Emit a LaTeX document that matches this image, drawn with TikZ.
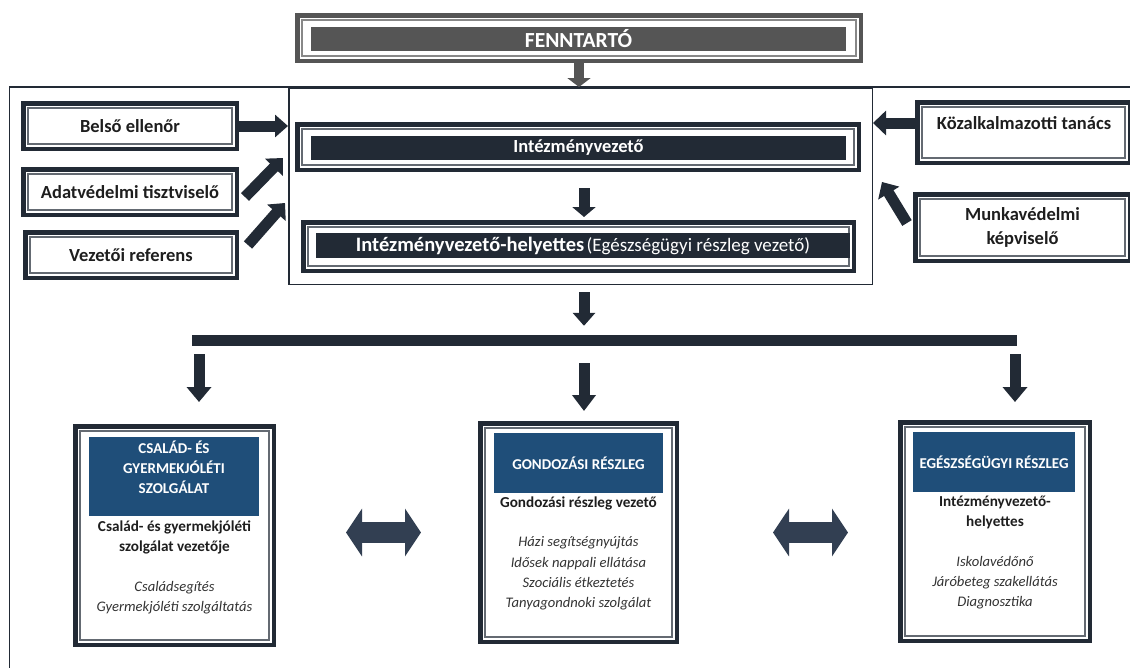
\documentclass[tikz,border=0pt]{standalone}
\usepackage{fontspec}
\setmainfont{Carlito}
\usetikzlibrary{arrows.meta}
\definecolor{navy}{HTML}{222A35}
\definecolor{hdrblue}{HTML}{1F4E79}
\definecolor{fgray}{HTML}{555555}
\definecolor{dblarr}{HTML}{323F52}
\definecolor{txtdark}{HTML}{1E1E1E}
\definecolor{txtgray}{HTML}{333333}

\tikzset{
  dboxst/.style={draw=#1, line width=4.5pt, fill=white, inner sep=0pt, align=center},
  sb/.style={font=\fontsize{18.5}{24}\selectfont\bfseries, text=txtdark},
  barst/.style={fill=#1, inner sep=0pt, text=white},
  hdr/.style={fill=hdrblue, inner sep=0pt, text=white, font=\fontsize{15}{20}\selectfont\bfseries, align=center},
  hdrtxt/.style={inner sep=0pt, text=white, font=\fontsize{15}{20}\selectfont\bfseries, align=center},
  bodyb/.style={font=\fontsize{15.2}{20}\selectfont\bfseries, text=txtdark, align=center, inner sep=0pt},
  bodyi/.style={font=\fontsize{14.6}{20.3}\selectfont\itshape, text=txtgray, align=center, inner sep=0pt},
  arr/.style={draw=navy, line width=11pt, -{Triangle[length=13pt,width=24pt]}},
  garr/.style={draw=fgray, line width=10pt, -{Triangle[length=9pt,width=23pt]}},
  darr/.style={draw=dblarr, line width=21pt, {Triangle[length=16pt,width=47pt]}-{Triangle[length=16pt,width=47pt]}}
}

% name, x1, y1, x2, y2, colour, extra style, text
\newcommand\dbox[8]{%
  \node[dboxst=#6,#7,minimum width={#4pt-#2pt-4.5pt},minimum height={#5pt-#3pt-4.5pt}]
    (#1) at ({(#2+#4)/2},{(#3+#5)/2}) {#8};
  \draw[line width=1.2pt, draw=#6!70] ({#2+7},{#3+7}) rectangle ({#4-7},{#5-7});
}

\begin{document}
\begin{tikzpicture}[x=1pt,y=-1pt]
\useasboundingbox (0,0) rectangle (1130,667);
\clip (0,0) rectangle (1130,667);
\fill[white] (0,0) rectangle (1130,667);

% big outer frame
\draw[navy, line width=1.5pt] (9.5,87) rectangle (1170,700);

% central group box
\node[draw=navy, line width=1.5pt, fill=white, inner sep=0pt, minimum width=583.5, minimum height=196.5] (kozp) at (580.5,186) {};

% FENNTARTO
\dbox{fennbox}{295}{13}{863}{63}{fgray}{}{}
\node[barst=fgray, minimum width=535, minimum height=24, font=\fontsize{21.5}{24}\selectfont\bfseries] (fenn) at (578.5,39) {FENNTARTÓ};
\coordinate (ftop) at (579,87);
\draw[garr] (fennbox) -- (ftop);

% Intezmenyvezeto
\dbox{ivbox}{295}{122}{861}{172}{navy}{}{}
\node[barst=navy, minimum width=535, minimum height=24, font=\fontsize{18.5}{22}\selectfont\bfseries] (iv) at (578.5,147.5) {Intézményvezető};

% Helyettes
\dbox{ivhbox}{301}{220}{856}{273}{navy}{}{}
\node[barst=navy, minimum width=534, minimum height=25] (ivh) at (583,245.5)
  {{\fontsize{20.5}{24}\selectfont\bfseries Intézményvezető-helyettes} {\fontsize{19}{24}\selectfont (Egészségügyi részleg vezető)}};

\draw[arr, -{Triangle[length=10pt,width=23pt]}, shorten <=16pt, shorten >=3pt]
  ([xshift=6pt]ivbox.south) -- ([xshift=6pt]ivbox.south |- ivhbox.north);

% left side boxes
\dbox{be}{21}{101}{239}{151}{navy}{sb}{Belső ellenőr}
\dbox{ad}{21}{167}{239}{217}{navy}{sb}{Adatvédelmi tisztviselő}
\dbox{vr}{23}{230}{239}{280}{navy}{sb}{Vezetői referens}

% right side boxes
\dbox{kt}{915}{100}{1132}{165}{navy}{}{}
\node[sb, inner sep=0pt] (ktt) at (1024,123) {Közalkalmazotti tanács};
\dbox{mk}{913}{192}{1132}{263}{navy}{sb}{Munkavédelmi\\képviselő}

% arrows into the central box
\draw[arr, -{Triangle[length=13pt,width=22pt]}] (be) -- (be -| kozp.west);
\coordinate (a1) at (245,197);
\coordinate (a2) at (283,158);
\draw[arr] (a1) -- (a2);
\coordinate (v1) at (248,245);
\coordinate (v2) at (285,203);
\draw[arr] (v1) -- (v2);
\coordinate (y123) at (0,123);
\draw[arr] (kt.west |- y123) -- (kozp.east |- y123);
\coordinate (m1) at (907,223);
\coordinate (m2) at (882,182);
\draw[arr] (m1) -- (m2);

% horizontal distribution bar
\node[fill=navy, inner sep=0pt, minimum width=825, minimum height=11] (hbar) at (604.5,340.5) {};
\draw[arr, -{Triangle[length=13pt,width=22pt]}, shorten <=7pt, shorten >=9pt]
  ([xshift=3.5pt]kozp.south) -- ([xshift=3.5pt]kozp.south |- hbar.north);

% bottom boxes
\dbox{bl}{73}{424}{276}{647}{navy}{}{}
\node[hdr, minimum width=170, minimum height=79] (blh) at (174,476.5) {};
\node[hdrtxt] (blt) at (174,467) {CSALÁD- ÉS\\GYERMEKJÓLÉTI\\SZOLGÁLAT};
\node[bodyb] (blb) at (174.5,537) {Család- és gyermekjóléti\\szolgálat vezetője};
\node[bodyi] (bli) at (174.5,598) {Családsegítés\\Gyermekjóléti szolgáltatás};

\dbox{bm}{478}{421}{679}{644}{navy}{}{}
\node[hdr, minimum width=169, minimum height=60] (bmh) at (578.5,463) {GONDOZÁSI RÉSZLEG};
\node[bodyb] (bmb) at (578.5,503) {Gondozási részleg vezető};
\node[bodyi] (bmi) at (578.5,573.5) {Házi segítségnyújtás\\Idősek nappali ellátása\\Szociális étkeztetés\\Tanyagondnoki szolgálat};

\dbox{br}{898}{420}{1092}{643}{navy}{}{}
\node[hdr, minimum width=162, minimum height=60] (brh) at (994,462) {EGÉSZSÉGÜGYI RÉSZLEG};
\node[bodyb] (brb) at (995,512) {Intézményvezető-\\helyettes};
\node[bodyi] (bri) at (995,582.5) {Iskolavédőnő\\Járóbeteg szakellátás\\Diagnosztika};

% arrows from the bar down to the boxes
\coordinate (xl) at (199,0);
\coordinate (xm) at (584,0);
\coordinate (xr) at (1015,0);
\draw[arr, -{Triangle[length=15pt,width=24pt]}, shorten <=8pt, shorten >=22pt] (hbar.south -| xl) -- (bl.north -| xl);
\draw[arr, -{Triangle[length=16pt,width=23pt]}, shorten <=17pt, shorten >=10pt] (hbar.south -| xm) -- (bm.north -| xm);
\draw[arr, -{Triangle[length=15pt,width=24pt]}, shorten <=8pt, shorten >=18pt] (hbar.south -| xr) -- (br.north -| xr);

% double arrows between the bottom boxes
\coordinate (ya) at (0,532.5);
\draw[darr, shorten <=70pt, shorten >=57pt] (bl.east |- ya) -- (bm.west |- ya);
\draw[darr, shorten <=94pt, shorten >=50pt] (bm.east |- ya) -- (br.west |- ya);
\end{tikzpicture}
\end{document}
